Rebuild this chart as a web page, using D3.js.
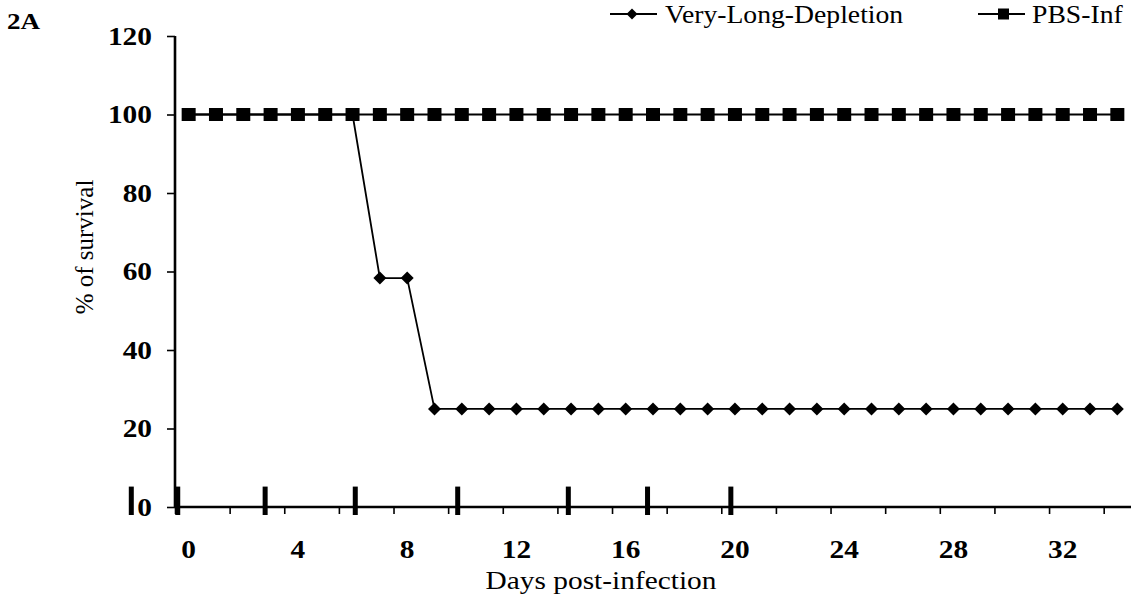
<!DOCTYPE html>
<html>
<head>
<meta charset="utf-8">
<script src="https://cdn.jsdelivr.net/npm/d3@7"></script>
<style>
  html, body { margin: 0; padding: 0; background: #fff; }
  svg { display: block; }
</style>
</head>
<body>
<svg id="chart" width="1133" height="597" font-family="Liberation Serif, Times New Roman, serif"></svg>
<script>
// ---------- data ----------
const days = [0,1,2,3,4,5,6,7,8,9,10,11,12,13,14,15,16,17,18,19,20,21,22,23,24,25,26,27,28,29,30,31,32,33,34];
const veryLongDepletion = [100,100,100,100,100,100,100,58.33,58.33,25,25,25,25,25,25,25,25,25,25,25,25,25,25,25,25,25,25,25,25,25,25,25,25,25,25];
const pbsInf = [100,100,100,100,100,100,100,100,100,100,100,100,100,100,100,100,100,100,100,100,100,100,100,100,100,100,100,100,100,100,100,100,100,100,100];
const yTicks = [0,20,40,60,80,100,120];
const xTickLabels = [0,4,8,12,16,20,24,28,32];
const xTickMarks = [-0.5,1.5,3.5,5.5,7.5,9.5,11.5,13.5,15.5,17.5,19.5,21.5,23.5,25.5,27.5,29.5,31.5,33.5];
const markerDays = [-2.1,-0.4,2.8,6.1,9.85,13.9,16.8,19.85];
const seriesNames = ["Very-Long-Depletion", "PBS-Inf"];

// ---------- layout ----------
const SX = 1.13; // horizontal stretch of the text in the original figure
const svg = d3.select("#chart");
const x = d3.scaleLinear().domain([-0.5, 34.5]).range([175, 1131]);
const y = d3.scaleLinear().domain([0, 120]).range([507, 36]);

function stext(g, px, py, txt, anchor, size, weight) {
  return g.append("text")
    .attr("transform", `translate(${px},${py}) scale(${SX},1)`)
    .attr("text-anchor", anchor)
    .attr("font-family", "Liberation Serif, Times New Roman, serif")
    .attr("font-size", size)
    .attr("font-weight", weight)
    .attr("fill", "#000")
    .text(txt);
}

// panel label
stext(svg, 7, 29, "2A", "start", 24, "bold");

// annotation bars
svg.append("g").selectAll("rect").data(markerDays).join("rect")
  .attr("x", d => x(d) - 2.5)
  .attr("y", y(5.2))
  .attr("width", 5)
  .attr("height", y(0) - y(5.2) + 8)
  .attr("fill", "#000");

// y axis
const yAxis = svg.append("g").attr("transform", `translate(${x(-0.5)},0)`)
  .call(d3.axisLeft(y).tickValues(yTicks).tickSize(8).tickFormat(""));
yAxis.select(".domain").attr("d", `M0,${y(120)}V${y(0)}`).attr("stroke", "#000").attr("stroke-width", 2.6);
yAxis.selectAll(".tick line").attr("stroke", "#000").attr("stroke-width", 1.6);
yTicks.forEach(t => {
  stext(svg, 152, y(t), String(t), "end", 26, "bold").attr("dy", "0.34em");
});

// x axis
const xAxis = svg.append("g").attr("transform", `translate(0,${y(0)})`)
  .call(d3.axisBottom(x).tickValues(xTickMarks).tickSize(7).tickFormat(""));
xAxis.select(".domain").attr("d", `M${x(-0.5)},0H${x(34.5)}`).attr("stroke", "#000").attr("stroke-width", 2.6);
xAxis.selectAll(".tick line").attr("stroke", "#000").attr("stroke-width", 1.6);
xTickLabels.forEach(t => {
  stext(svg, x(t), 558, String(t), "middle", 26, "bold");
});

// axis titles
stext(svg, 601, 589, "Days post-infection", "middle", 26, "normal");
svg.append("text")
  .attr("transform", `translate(93,247) rotate(-90)`)
  .attr("text-anchor", "middle")
  .attr("font-family", "Liberation Serif, Times New Roman, serif")
  .attr("font-size", 25)
  .attr("fill", "#000")
  .text("% of survival");

// series
const line = d3.line().x((d, i) => x(days[i])).y(d => y(d));

function drawDiamondSeries(vals) {
  svg.append("path").datum(vals).attr("d", line)
    .attr("fill", "none").attr("stroke", "#000").attr("stroke-width", 1.8);
  svg.append("g").selectAll("path").data(vals).join("path")
    .attr("transform", (d, i) => `translate(${x(days[i])},${y(d)})`)
    .attr("d", "M0,-6.5L6.5,0L0,6.5L-6.5,0Z")
    .attr("fill", "#000");
}
function drawSquareSeries(vals) {
  svg.append("path").datum(vals).attr("d", line)
    .attr("fill", "none").attr("stroke", "#000").attr("stroke-width", 1.8);
  svg.append("g").selectAll("rect").data(vals).join("rect")
    .attr("x", (d, i) => x(days[i]) - 7)
    .attr("y", d => y(d) - 6.5)
    .attr("width", 14).attr("height", 13)
    .attr("fill", "#000");
}
drawDiamondSeries(veryLongDepletion);
drawSquareSeries(pbsInf);

// legend
const lg = svg.append("g");
lg.append("line").attr("x1", 610).attr("x2", 657).attr("y1", 14).attr("y2", 14).attr("stroke", "#000").attr("stroke-width", 1.8);
lg.append("path").attr("transform", "translate(632,14)").attr("d", "M0,-5.5L5.5,0L0,5.5L-5.5,0Z").attr("fill", "#000");
stext(lg, 665, 23, seriesNames[0], "start", 24.5, "normal");
lg.append("line").attr("x1", 978).attr("x2", 1025).attr("y1", 14).attr("y2", 14).attr("stroke", "#000").attr("stroke-width", 1.8);
lg.append("rect").attr("x", 998).attr("y", 8.5).attr("width", 11).attr("height", 11).attr("fill", "#000");
stext(lg, 1032, 23, seriesNames[1], "start", 24.5, "normal");
</script>
</body>
</html>
